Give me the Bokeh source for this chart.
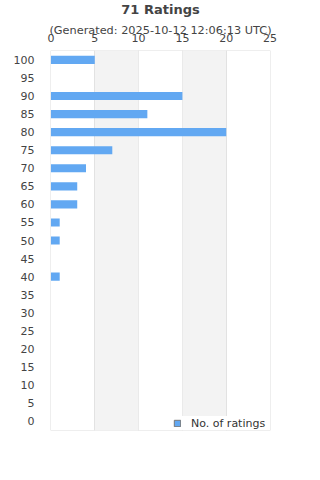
import math
from bokeh.plotting import figure
from bokeh.models import Legend, LegendItem, FixedTicker, Title, BoxAnnotation
from bokeh.embed import file_html
from bokeh.resources import INLINE

ratings = [100, 95, 90, 85, 80, 75, 70, 65, 60, 55, 50, 45, 40, 35, 30, 25, 20, 15, 10, 5, 0]
counts = [5, 0, 15, 11, 20, 7, 4, 3, 3, 1, 1, 0, 1, 0, 0, 0, 0, 0, 0, 0, 0]
x_ticks = [0, 5, 10, 15, 20, 25]
title = "71 Ratings"
subtitle = "(Generated: 2025-10-12 12:06:13 UTC)"
series_name = "No. of ratings"

FONT = "DejaVu Sans"
BAR = "#62a8f2"
GRID = "#dddddd"
BAND = "#f3f3f3"
TXT = "#444444"

x_min, x_max = x_ticks[0], x_ticks[-1]
y_lo, y_hi = min(ratings) - 2.5, max(ratings) + 2.5
pad_y = 0.1
pad_x = 0.05

p = figure(width=320, height=480, output_backend="svg", toolbar_location=None,
           x_range=(x_min - pad_x, x_max + pad_x), y_range=(y_lo - pad_y, y_hi + pad_y),
           x_axis_location="above",
           min_border_left=50, min_border_right=50, min_border_top=0, min_border_bottom=50,
           background_fill_color="white", border_fill_color="white")

# alternating plot bands between x ticks
for i in range(1, len(x_ticks) - 1, 2):
    p.add_layout(BoxAnnotation(left=x_ticks[i], right=x_ticks[i + 1], bottom=y_lo, top=y_hi,
                               fill_color=BAND, fill_alpha=1, line_color=None, level="underlay"))

p.hbar(y=ratings, right=counts, left=0, height=2.25, fill_color=BAR, line_color=None)

p.outline_line_color = None
p.xaxis.ticker = FixedTicker(ticks=x_ticks)
p.yaxis.ticker = FixedTicker(ticks=ratings)
for ax in (p.xaxis[0], p.yaxis[0]):
    ax.axis_line_color = None
    ax.major_tick_line_color = None
    ax.minor_tick_line_color = None
    ax.major_label_text_font = FONT
    ax.major_label_text_font_size = "11px"
    ax.major_label_text_color = TXT
p.xaxis.major_label_standoff = 3
p.yaxis.major_label_standoff = 10

p.xaxis.axis_label = subtitle
p.xaxis.axis_label_text_font = FONT
p.xaxis.axis_label_text_font_size = "11.3px"
p.xaxis.axis_label_text_font_style = "normal"
p.xaxis.axis_label_text_color = TXT
p.xaxis.axis_label_standoff = -6

p.xgrid.ticker = FixedTicker(ticks=x_ticks)
p.xgrid.grid_line_color = GRID
p.xgrid.level = "underlay"

p.ygrid.ticker = FixedTicker(ticks=[y_lo, y_hi])
p.ygrid.grid_line_color = GRID
p.ygrid.cross_bounds = (x_min, x_max)

p.add_layout(Title(text=title, text_font=FONT, text_font_size="13px", text_font_style="bold",
                   text_color=TXT, align="center", vertical_align="top", standoff=3), "above")

dummy = p.quad(left=[math.nan], right=[math.nan], top=[math.nan], bottom=[math.nan],
               fill_color=BAR, line_color="#777777")
legend = Legend(items=[LegendItem(label=series_name, renderers=[dummy])],
                location=(123, 0), background_fill_color="white", background_fill_alpha=1,
                border_line_color=None, label_text_font=FONT, label_text_font_size="11px",
                label_text_color="#333333", glyph_width=8, glyph_height=8,
                label_standoff=10, padding=6, margin=0, label_height=14)
p.add_layout(legend, "center")

open("out.html", "w").write(file_html(p, INLINE))
